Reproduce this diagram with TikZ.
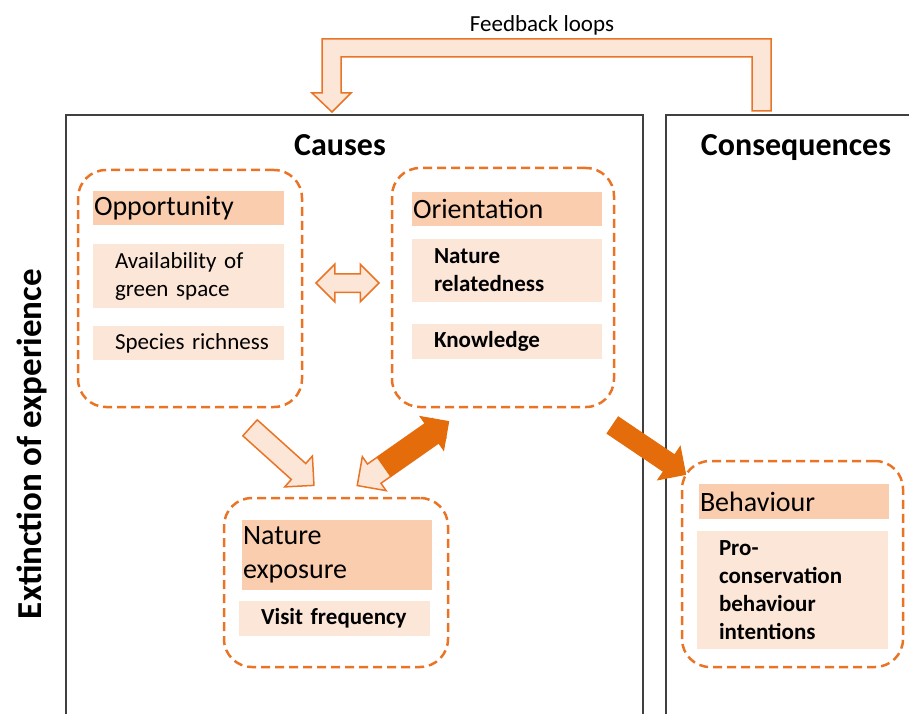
\documentclass[tikz,border=0pt]{standalone}
\usepackage{fontspec}
\setmainfont{Carlito}
\usetikzlibrary{shapes.arrows}

\definecolor{accent}{HTML}{EA7426}
\definecolor{deeporange}{HTML}{E46C0A}
\definecolor{peach}{HTML}{FCE6D8}
\definecolor{apricot}{HTML}{F9CDAE}
\definecolor{framegray}{HTML}{404040}

\tikzset{
  group/.style={draw=accent, line width=2.5pt, dash pattern=on 9pt off 5pt,
    rounded corners=28pt},
  header/.style={fill=apricot, inner xsep=1pt, inner ysep=0pt, align=left,
    font=\fontsize{28}{34}\selectfont},
  item/.style={fill=peach, inner xsep=3pt, inner ysep=0pt, align=left,
    font=\fontsize{23}{28}\selectfont, execute at begin node={\leftskip=19pt}},
  bolditem/.style={item, font=\fontsize{23}{28}\selectfont\bfseries},
  title/.style={anchor=base, font=\fontsize{32}{38}\selectfont\bfseries},
  openarrow/.style={single arrow, draw=accent, fill=peach, line width=1.5pt},
  solidarrow/.style={single arrow, draw=deeporange, fill=deeporange, line width=1pt}
}

\begin{document}
\begin{tikzpicture}[x=1pt,y=-1pt]
  \useasboundingbox (0,0) rectangle (909,714);

  % the two frames
  \draw[framegray, line width=2pt] (66,714) -- (66,115) -- (643,115) -- (643,714);
  \draw[framegray, line width=2pt] (666,714) -- (666,115) -- (909,115);

  \node[title] (causes) at (340,156) {Causes};
  \node[title] (conseq) at (796,156) {Consequences};
  \node[title, font=\fontsize{35}{40}\selectfont\bfseries, rotate=90] (extinction)
    at (41,444) {Extinction of experience};

  % feedback loop
  \node[anchor=base, font=\fontsize{23}{28}\selectfont] (feedback) at (542,32) {Feedback loops};
  \draw[accent, fill=peach, line width=1.5pt] (771,39) -- (771,111) -- (752,111)
    -- (752,57) -- (341,57) -- (341,93) -- (351,93) -- (332,112) -- (312,93)
    -- (322,93) -- (322,39) -- cycle;

  % dashed groups
  \begin{scope}[every node/.style={group}]
    \node[minimum width=224pt, minimum height=237pt] (opp)  at (190,288.5) {};
    \node[minimum width=222pt, minimum height=239pt] (ori)  at (503,287.5) {};
    \node[minimum width=224pt, minimum height=169pt] (expo) at (336,582.5) {};
    \node[minimum width=221pt, minimum height=206pt] (beh)  at (792.5,564) {};
  \end{scope}

  % opportunity
  \node[header, text width=189pt, minimum height=34pt] (opphead) at (188.5,208) {Opportunity};
  \node[item, text width=185pt, minimum height=64pt] (oppgreen) at (188.5,276)
    {Availability of\\green space};
  \node[item, text width=185pt, minimum height=34pt] (oppspecies) at (188.5,343)
    {Species richness};

  % orientation
  \node[header, text width=188pt, minimum height=34pt] (orihead) at (507,209) {Orientation};
  \node[bolditem, text width=184pt, minimum height=63pt] (orirel) at (507,270.5)
    {Nature\\relatedness};
  \node[bolditem, text width=184pt, minimum height=35pt] (oriknow) at (507,341.5)
    {Knowledge};

  % nature exposure
  \node[header, text width=188pt, minimum height=70pt] (expohead) at (337,555)
    {Nature\\exposure};
  \node[bolditem, text width=185pt, minimum height=35pt] (expovisit) at (334.5,618.5)
    {Visit frequency};

  % behaviour
  \node[header, text width=188pt, minimum height=35pt] (behhead) at (794,501.5) {Behaviour};
  \node[bolditem, text width=185pt, minimum height=118pt] (behintent) at (792.5,590)
    {Pro-\\conservation\\behaviour\\intentions};

  % block arrows
  \node[double arrow, draw=accent, fill=peach, line width=1.5pt, inner sep=8.5pt,
    double arrow head extend=9.5pt, minimum height=63pt] (opp2ori) at (347.5,283) {};
  \node[openarrow, inner sep=10pt, single arrow head extend=10pt,
    minimum height=86pt, rotate=-42] (opp2expo) at (278,453) {};
  \node[openarrow, inner sep=11pt, single arrow head extend=9pt,
    minimum height=100pt, rotate=215] (ori2expo) at (403,453.5) {};
  \node[solidarrow, inner sep=11pt, single arrow head extend=9pt,
    minimum height=79pt, rotate=35] (expo2ori) at (411.6,447.5) {};
  \node[solidarrow, inner sep=9.5pt, single arrow head extend=10pt,
    minimum height=88pt, rotate=-34] (ori2beh) at (645,447) {};
\end{tikzpicture}
\end{document}
